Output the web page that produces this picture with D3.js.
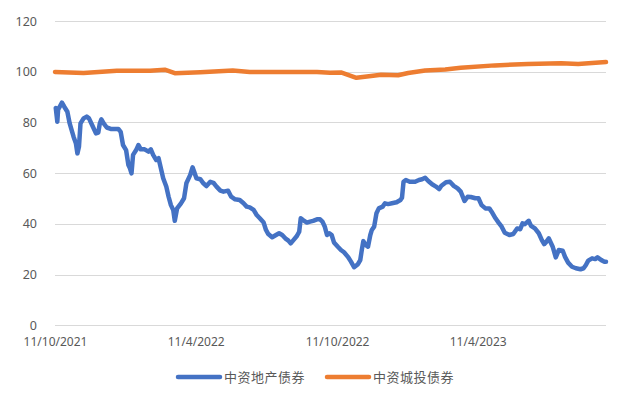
<!DOCTYPE html>
<html>
<head>
<meta charset="utf-8">
<script src="https://cdn.jsdelivr.net/npm/d3@7"></script>
<style>
  body { margin: 0; background: #fff; }
  text { font-family: "Noto Sans", "Noto Sans CJK SC", sans-serif; fill: #595959; }
</style>
</head>
<body>
<div id="chart"></div>
<script>
var seriesNames = ["中资地产债券", "中资城投债券"];
var yTicks = [0, 20, 40, 60, 80, 100, 120];
var xTicks = ["2021-10-11", "2022-04-11", "2022-10-11", "2023-04-11"];
var xDomain = ["2021-10-11", "2023-09-24"];

// 中资地产债券
var propDates = ["2021-10-12","2021-10-14","2021-10-15","2021-10-20","2021-10-23","2021-10-27","2021-10-30","2021-11-04","2021-11-07","2021-11-09",
  "2021-11-11","2021-11-13","2021-11-17","2021-11-21","2021-11-24","2021-11-28","2021-12-03","2021-12-06","2021-12-08","2021-12-10",
  "2021-12-13","2021-12-17","2021-12-23","2022-01-01","2022-01-04","2022-01-07","2022-01-11","2022-01-14","2022-01-16","2022-01-18",
  "2022-01-20","2022-01-24","2022-01-27","2022-01-30","2022-02-04","2022-02-09","2022-02-12","2022-02-15","2022-02-19","2022-02-22",
  "2022-02-25","2022-02-28","2022-03-04","2022-03-07","2022-03-10","2022-03-13","2022-03-15","2022-03-18","2022-03-23","2022-03-27",
  "2022-03-30","2022-04-04","2022-04-07","2022-04-09","2022-04-12","2022-04-17","2022-04-21","2022-04-25","2022-04-30","2022-05-04",
  "2022-05-08","2022-05-13","2022-05-17","2022-05-23","2022-05-27","2022-06-01","2022-06-07","2022-06-12","2022-06-16","2022-06-20",
  "2022-06-25","2022-06-29","2022-07-03","2022-07-08","2022-07-11","2022-07-14","2022-07-19","2022-07-24","2022-07-28","2022-08-01",
  "2022-08-05","2022-08-09","2022-08-12","2022-08-15","2022-08-20","2022-08-23","2022-08-25","2022-08-28","2022-09-02","2022-09-06",
  "2022-09-10","2022-09-15","2022-09-19","2022-09-22","2022-09-25","2022-09-28","2022-10-01","2022-10-04","2022-10-07","2022-10-12",
  "2022-10-16","2022-10-20","2022-10-25","2022-10-29","2022-11-02","2022-11-07","2022-11-10","2022-11-12","2022-11-14","2022-11-17",
  "2022-11-20","2022-11-23","2022-11-25","2022-11-28","2022-12-01","2022-12-04","2022-12-09","2022-12-12","2022-12-16","2022-12-21",
  "2022-12-27","2023-01-01","2023-01-03","2023-01-05","2023-01-08","2023-01-13","2023-01-20","2023-01-25","2023-01-29","2023-02-02",
  "2023-02-06","2023-02-11","2023-02-16","2023-02-20","2023-02-23","2023-03-01","2023-03-06","2023-03-11","2023-03-16","2023-03-20",
  "2023-03-25","2023-03-29","2023-04-02","2023-04-08","2023-04-12","2023-04-16","2023-04-21","2023-04-26","2023-04-29","2023-05-04",
  "2023-05-08","2023-05-12","2023-05-16","2023-05-22","2023-05-27","2023-06-01","2023-06-05","2023-06-08","2023-06-11","2023-06-16",
  "2023-06-19","2023-06-24","2023-06-29","2023-07-03","2023-07-06","2023-07-09","2023-07-12","2023-07-17","2023-07-21","2023-07-25",
  "2023-07-30","2023-08-02","2023-08-06","2023-08-11","2023-08-16","2023-08-22","2023-08-26","2023-08-29","2023-09-01","2023-09-06",
  "2023-09-10","2023-09-13","2023-09-18","2023-09-22","2023-09-24"];
var propValues = [85.7,80.3,85,87.8,86.2,84.2,79.6,74.4,71.8,67.8,
  70.4,79.6,81.6,82.3,81.6,79,75.7,76,79.6,81.2,
  79.6,78,77.4,77.4,76.3,71.1,69.1,63.2,61.9,59.9,
  67.2,69.1,71.1,69.4,69.4,68.5,69.4,67.2,65.2,65.9,
  61.9,58,54.7,50.7,47.4,45.5,41.2,46.1,48.1,50.1,
  56,59.3,62.3,60.6,58,57.6,56,54.9,56.6,56.2,
  54.7,53.1,52.7,53.1,50.7,49.7,49.4,48.1,46.8,46.5,
  45.5,43.5,42.2,40.5,37.6,36,34.7,35.6,36.3,35.6,
  34.3,33.4,32.3,33.4,35.2,36.9,42.2,41.5,40.5,40.9,
  41.2,41.8,41.8,40.9,39,35.6,36.3,35.6,32.7,31,
  29.7,28.8,27,25.1,22.9,24.1,25.7,29.7,33.2,31.7,
  31,35.6,37.6,38.9,44.2,46.1,46.8,48.1,47.8,48.1,
  48.5,49.4,50.3,56.6,57.3,56.6,56.6,57.3,57.6,58.2,
  56.9,55.6,54.7,53.7,55,56.4,56.6,55,54,52.7,
  49,50.7,50.6,50.1,50.1,47.4,46.1,46.1,44.8,42.2,
  40.5,38.9,36.5,35.6,36,38.2,37.9,40.2,39.9,41.2,
  39.2,38.2,36.3,33.6,32,33,34.3,31,26.8,29.7,
  29.4,27,24.7,23.1,22.5,22.1,22.5,23.8,25.5,26.4,
  26.1,26.8,25.7,25.1,25.1];

// 中资城投债券
var lgfvDates = ["2021-10-11","2021-11-17","2021-12-30","2022-02-11","2022-03-02","2022-03-15","2022-04-17","2022-05-29","2022-06-20","2022-08-02",
  "2022-09-15","2022-10-02","2022-10-16","2022-11-05","2022-11-24","2022-12-07","2022-12-29","2023-01-11","2023-02-02","2023-02-28",
  "2023-03-20","2023-05-03","2023-06-15","2023-07-28","2023-08-19","2023-09-24"];
var lgfvValues = [99.9,99.5,100.4,100.4,100.8,99.4,99.8,100.5,99.9,99.9,
  99.9,99.6,99.7,97.6,98.3,98.8,98.6,99.5,100.5,100.9,
  101.6,102.5,103,103.3,103,103.8];

var colors = ["#4472C4", "#ED7D31"];
var W = 629, H = 404;
var parse = d3.timeParse("%Y-%m-%d");
var fmt = d3.timeFormat("%-d/%-m/%Y");

var svg = d3.select("#chart").append("svg")
    .attr("width", W)
    .attr("height", H);

var x = d3.scaleTime()
    .domain(xDomain.map(parse))
    .range([55, 606]);
var y = d3.scaleLinear()
    .domain([0, 120])
    .range([325.3, 21]);

// gridlines
svg.append("g")
    .selectAll("line")
    .data(yTicks)
    .join("line")
    .attr("x1", 55)
    .attr("x2", 606)
    .attr("y1", d => Math.round(y(d)) + 0.5)
    .attr("y2", d => Math.round(y(d)) + 0.5)
    .attr("stroke", "#D9D9D9")
    .attr("stroke-width", 1);

// y labels
var yAxis = svg.append("g")
    .attr("transform", "translate(45,0)")
    .call(d3.axisLeft(y).tickValues(yTicks).tickSize(0).tickPadding(8));
yAxis.select(".domain").remove();
yAxis.selectAll("text")
    .style("font-size", "12.5px")
    .attr("fill", "#595959");

// x labels
var xAxis = svg.append("g")
    .attr("transform", "translate(0,333)")
    .call(d3.axisBottom(x).tickValues(xTicks.map(parse)).tickFormat(fmt).tickSize(0).tickPadding(4));
xAxis.select(".domain").remove();
xAxis.selectAll("text")
    .style("font-size", "12px")
    .attr("fill", "#595959");

var line = d3.line()
    .x(d => x(d[0]))
    .y(d => y(d[1]))
    .curve(d3.curveLinear);

var series = [
  d3.zip(propDates.map(parse), propValues),
  d3.zip(lgfvDates.map(parse), lgfvValues)
];

// draw orange first then blue? keep order: blue under orange not overlapping anyway
series.forEach(function(s, i) {
  svg.append("path")
      .datum(s)
      .attr("fill", "none")
      .attr("stroke", colors[i])
      .attr("stroke-width", 4.5)
      .attr("stroke-linejoin", "round")
      .attr("stroke-linecap", "round")
      .attr("d", line);
});

// legend
var legendX = [178, 327];
var legend = svg.append("g");
seriesNames.forEach(function(n, i) {
  legend.append("line")
      .attr("x1", legendX[i])
      .attr("x2", legendX[i] + 42)
      .attr("y1", 377)
      .attr("y2", 377)
      .attr("stroke", colors[i])
      .attr("stroke-width", 4.5)
      .attr("stroke-linecap", "round");
  legend.append("text")
      .attr("x", legendX[i] + 46)
      .attr("y", 377)
      .attr("dy", "0.36em")
      .style("font-size", "13px")
      .style("letter-spacing", "0.5px")
      .text(n);
});
</script>
</body>
</html>
